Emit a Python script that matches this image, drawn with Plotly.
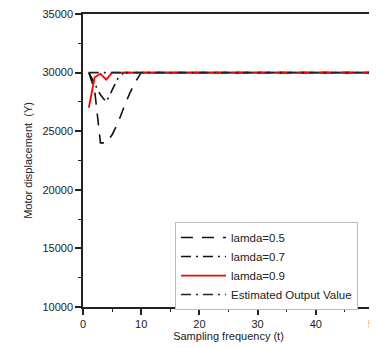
import plotly.graph_objects as go

x_05 = [1, 2, 3, 4, 5, 6, 7, 8, 9, 10, 50]
y_05 = [30000, 28500, 24000, 24000, 24700, 25700, 27000, 28200, 29200, 30000, 30000]
x_07 = [1, 2, 3, 4, 5, 6, 7, 50]
y_07 = [30000, 29100, 28100, 27500, 28500, 29500, 30000, 30000]
x_09 = [1, 2, 3, 4, 5, 50]
y_09 = [27000, 29600, 29900, 29400, 30000, 30000]
x_est = [1, 50]
y_est = [30000, 30000]

fnt = dict(family="Liberation Sans, Arial, sans-serif", size=11, color="#222")

fig = go.Figure()
fig.add_trace(go.Scatter(x=x_05, y=y_05, mode="lines", name="lamda=0.5",
                         line=dict(color="#111", width=1.6, dash="12px,9px")))
fig.add_trace(go.Scatter(x=x_07, y=y_07, mode="lines", name="lamda=0.7",
                         line=dict(color="#111", width=1.6, dash="10px,5px,2px,5px")))
fig.add_trace(go.Scatter(x=x_09, y=y_09, mode="lines", name="lamda=0.9",
                         line=dict(color="red", width=1.8)))
fig.add_trace(go.Scatter(x=x_est, y=y_est, mode="lines", name="Estimated Output Value",
                         line=dict(color="#222", width=1.6, dash="10px,5px,2px,5px")))

fig.update_layout(
    width=369, height=340,
    margin=dict(l=75, r=3, t=6, b=41, autoexpand=False),
    paper_bgcolor="white", plot_bgcolor="white",
    font=fnt,
    legend=dict(x=0.316, y=0.29, xanchor="left", yanchor="top",
                bordercolor="#bbb", borderwidth=1, bgcolor="white",
                font=dict(size=11.5), tracegroupgap=0, itemwidth=45),
    showlegend=True,
)
fig.update_xaxes(range=[0, 50], tickmode="linear", tick0=0, dtick=10, tickformat="d",
                 automargin=False, ticklabeloverflow="allow",
                 showline=True, linecolor="#222", linewidth=1.5, mirror=True,
                 ticks="outside", ticklen=6, tickwidth=1.5, tickcolor="#222",
                 minor=dict(ticks="outside", ticklen=3, tickwidth=1.2, dtick=5, tickcolor="#222"),
                 showgrid=False, zeroline=False,
                 title=dict(text="Sampling frequency (t)", standoff=0, font=dict(size=11)))
fig.update_yaxes(range=[10000, 35000], tickmode="linear", tick0=10000, dtick=5000, tickformat="d",
                 automargin=False, ticklabeloverflow="allow",
                 showline=True, linecolor="#222", linewidth=1.5, mirror=True,
                 ticks="outside", ticklen=6, tickwidth=1.5, tickcolor="#222",
                 minor=dict(ticks="outside", ticklen=3, tickwidth=1.2, dtick=2500, tickcolor="#222"),
                 showgrid=False, zeroline=False,
                 title=dict(text="Motor displacement  (Y)", standoff=8, font=dict(size=11)))

fig.write_html("out.html")
